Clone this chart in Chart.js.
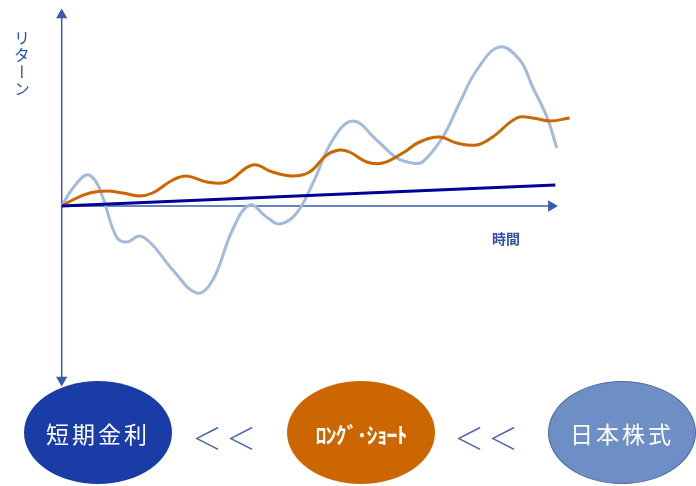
<!DOCTYPE html>
<html>
<head>
<meta charset="utf-8">
<script src="https://cdn.jsdelivr.net/npm/chart.js@4.4.1/dist/chart.umd.min.js"></script>
<style>
    body { margin: 0; background: #fff; font-family: "Noto Sans CJK JP", "Noto Sans", sans-serif; }
    #wrap { position: relative; width: 696px; height: 486px; overflow: hidden; }
    #chartBox { position: absolute; left: 0; top: 0; width: 696px; height: 486px; }
    .lbl { position: absolute; color: #3050a8; }
    #yLabel { left: 10px; top: 30px; font-size: 16px; writing-mode: vertical-rl; letter-spacing: 1px; }
    #xLabel { left: 492px; top: 228px; font-size: 14px; font-weight: bold; }
    .oval { position: absolute; top: 381px; width: 148px; height: 103px; border-radius: 50%;
            display: flex; align-items: center; justify-content: center; color: #fff; }
    .lt { position: absolute; top: 414px; font-size: 30px; color: #4a66aa; font-weight: 300; letter-spacing: 4px; }
</style>
</head>
<body>
<div id="wrap">
    <div id="chartBox"><canvas id="myChart"></canvas></div>
    <div class="lbl" id="yLabel">リターン</div>
    <div class="lbl" id="xLabel">時間</div>

    <div class="oval" style="left:24px; background:#1a3ca6; font-size:23px; letter-spacing:3px;">短期金利</div>
    <div class="lt" style="left:192px;">＜＜</div>
    <div class="oval" style="left:287px; background:#cc6600; font-size:22px; font-weight:bold; letter-spacing:-1px;">ﾛﾝｸﾞ･ｼｮｰﾄ</div>
    <div class="lt" style="left:454px;">＜＜</div>
    <div class="oval" style="left:548px; background:#6e8fc5; border:1px solid #50689a; box-sizing:border-box; font-size:23px; letter-spacing:3px;">日本株式</div>
</div>

<script>
    // time (x) / return (y) readings
    var stockX = [0, 2, 4.9, 6.7, 8.3, 11.1, 13.2, 15.8, 18.4, 22.5, 27.4, 30.6, 34.6, 38.1, 41.5, 44.2, 47.6, 50.9, 54.9, 59, 63.8, 67.9, 71.1, 73.1, 77.2, 80.6, 84.1, 88.7, 92.8, 95.4, 98.3, 100.3]
    var stockY = [0, 0.8, 1.55, 1.3, 0.45, -1.55, -1.8, -1.5, -1.95, -3.2, -4.35, -3.7, -1.2, 0.05, -0.55, -0.9, -0.35, 1.15, 3.3, 4.25, 3.3, 2.4, 2.15, 2.2, 3.45, 5.15, 6.8, 7.95, 7.3, 5.95, 4.45, 2.9]

    var lsX = [0, 2.2, 5.7, 9.1, 12.4, 15.8, 18.4, 22.5, 25.3, 29.4, 33.4, 38.7, 42.7, 46.8, 50.2, 53.7, 56.3, 58.3, 61.8, 65, 69.1, 72.5, 76.6, 80, 84.1, 87.3, 92.2, 95.4, 98.9, 102.9]
    var lsY = [0, 0.3, 0.65, 0.75, 0.65, 0.5, 0.65, 1.3, 1.5, 1.2, 1.2, 2.05, 1.7, 1.5, 1.7, 2.55, 2.8, 2.7, 2.2, 2.15, 2.65, 3.2, 3.45, 3.15, 3.05, 3.45, 4.4, 4.4, 4.25, 4.4]

    var rateX = [0, 100]
    var rateY = [0, 1.05]

    function toPoints(xs, ys) {
        return xs.map(function (x, i) { return { x: x, y: ys[i] } })
    }

    var axisColor = '#3a5ba8'

    new Chart(document.getElementById('myChart'), {
        type: 'line',
        data: {
            datasets: [
                {
                    label: '日本株式',
                    data: toPoints(stockX, stockY),
                    borderColor: '#a2bbdd',
                    borderWidth: 3,
                    pointRadius: 0,
                    tension: 0.4,
                    order: 3
                },
                {
                    label: 'ロング・ショート',
                    data: toPoints(lsX, lsY),
                    borderColor: '#cc6600',
                    borderWidth: 3,
                    pointRadius: 0,
                    tension: 0.4,
                    order: 2
                },
                {
                    label: '短期金利',
                    data: toPoints(rateX, rateY),
                    borderColor: '#000099',
                    borderWidth: 3,
                    pointRadius: 0,
                    order: 1
                },
                {
                    // horizontal axis with arrow
                    data: [{ x: 0, y: 0 }, { x: 99.2, y: 0 }],
                    borderColor: axisColor,
                    backgroundColor: axisColor,
                    borderWidth: 1.5,
                    pointStyle: 'triangle',
                    pointRadius: [0, 5],
                    rotation: [0, 90],
                    order: 10
                },
                {
                    // vertical axis, arrows both ends
                    data: [{ x: 0, y: 9.55 }, { x: 0, y: -8.7 }],
                    borderColor: axisColor,
                    backgroundColor: axisColor,
                    borderWidth: 1.5,
                    pointStyle: 'triangle',
                    pointRadius: [5, 5],
                    rotation: [0, 180],
                    order: 10
                }
            ]
        },
        options: {
            responsive: true,
            maintainAspectRatio: false,
            animation: false,
            layout: { padding: 0, autoPadding: false },
            plugins: { legend: { display: false }, tooltip: { enabled: false } },
            scales: {
                x: { type: 'linear', min: -12.5, max: 128.5, display: false },
                y: { type: 'linear', min: -14, max: 10.3, display: false }
            }
        }
    })
</script>
</body>
</html>
